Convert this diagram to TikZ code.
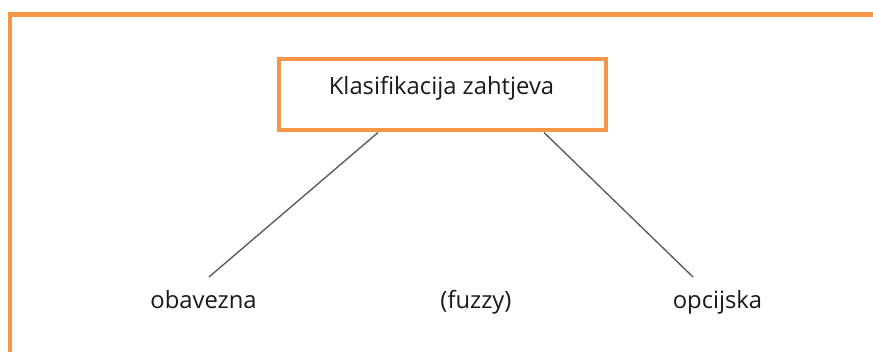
\documentclass[tikz,border=0pt]{standalone}
\usepackage{fontspec}
\setmainfont{Open Sans}
\definecolor{frameorange}{HTML}{F79646}
\definecolor{linegray}{HTML}{555555}
\definecolor{txt}{HTML}{1A1A1A}
\begin{document}
\begin{tikzpicture}[x=1pt,y=1pt,
  lbl/.style={font=\fontsize{23.8}{28}\selectfont, text=txt, anchor=base, inner sep=0pt},
  conn/.style={draw=linegray, line width=1.3pt},
  orangebox/.style={draw=frameorange, line width=4.8pt}]
\useasboundingbox (0,0) rectangle (873,-351);
% outer frame (partially visible)
\draw[orangebox] (10,-360) -- (10,-14.5) -- (880,-14.5);
% main box
\node[orangebox, minimum width=327pt, minimum height=71pt, inner sep=0pt] (box) at (442.5,-94.5) {};
\node[lbl] (title) at (441.5,-94) {Klasifikacija zahtjeva};
% labels
\node[lbl] (ob) at (203.5,-308) {obavezna};
\node[lbl] (fz) at (476,-308) {(fuzzy)};
\node[lbl] (op) at (717.5,-308) {opcijska};
% connector ends
\coordinate (s1) at (378,-132.5);
\coordinate (s2) at (544,-132.5);
\coordinate (e1) at (209,-277);
\coordinate (e2) at (693,-277);
\draw[conn] (s1) -- (e1);
\draw[conn] (s2) -- (e2);
\end{tikzpicture}
\end{document}
